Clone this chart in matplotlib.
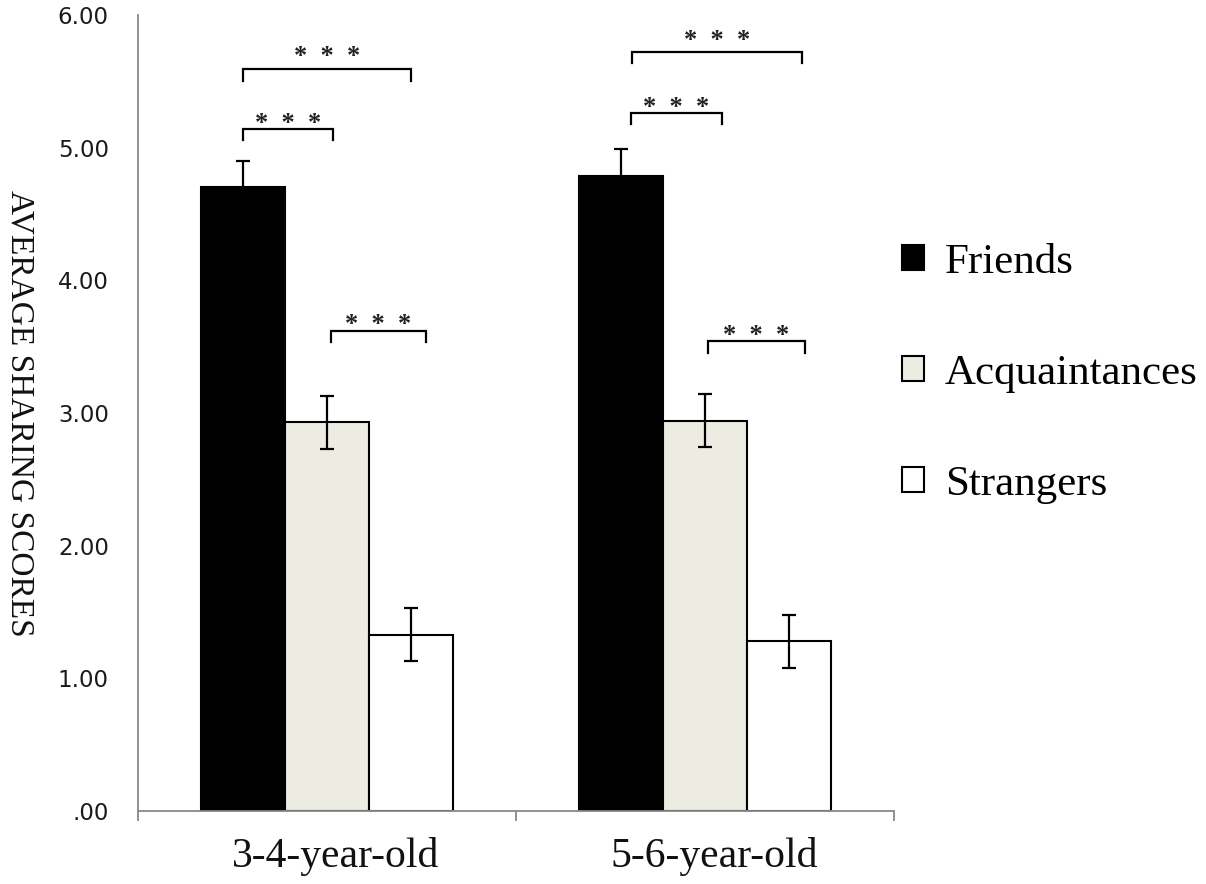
import numpy as np
import matplotlib
matplotlib.use("Agg")
import matplotlib.pyplot as plt
import matplotlib.transforms as mtransforms
from matplotlib.patches import Patch

groups = ["3-4-year-old", "5-6-year-old"]
series = ["Friends", "Acquaintances", "Strangers"]
means = {
    "Friends": [4.70, 4.79],
    "Acquaintances": [2.93, 2.94],
    "Strangers": [1.33, 1.28],
}
errors = {
    "Friends": [0.20, 0.20],
    "Acquaintances": [0.20, 0.20],
    "Strangers": [0.20, 0.20],
}
ytick_vals = [0, 1, 2, 3, 4, 5, 6]
ytick_labels = [".00", "1.00", "2.00", "3.00", "4.00", "5.00", "6.00"]

# significance brackets: (group, bar a, bar b, bracket height, star height)
sig_group = [0, 0, 0, 1, 1, 1]
sig_a = [0, 0, 1, 0, 0, 1]
sig_b = [2, 1, 2, 2, 1, 2]
sig_line = [5.59, 5.14, 3.62, 5.72, 5.26, 3.54]
sig_star = [5.74, 5.24, 3.72, 5.86, 5.36, 3.64]
sig_label = ["* * *"] * 6

colors = ["#000000", "#EDECE3", "#FFFFFF"]
serif = "Liberation Serif"

fig = plt.figure(figsize=(12.06, 8.84), dpi=100)
ax = fig.add_axes([138 / 1206, 1 - 811 / 884, (894 - 138) / 1206, (811 - 15) / 884])

w = 0.222
offs = [-w, 0, w]
x = np.arange(len(groups))
for i, s in enumerate(series):
    ax.bar(x + offs[i], means[s], w, color=colors[i], edgecolor="black", linewidth=1.5,
           yerr=errors[s], error_kw=dict(ecolor="black", elinewidth=1.6, capsize=5, capthick=1.6),
           zorder=2)

# bracket end shifts (hand drawn in original)
shift_l = [0.0, 0.0, 0.01, 0.03, 0.026, 0.008]
shift_r = [0.0, 0.016, 0.04, 0.035, 0.045, 0.042]
tip = 0.085
for k in range(len(sig_group)):
    xa = x[sig_group[k]] + offs[sig_a[k]] + shift_l[k]
    xb = x[sig_group[k]] + offs[sig_b[k]] + shift_r[k]
    yl = sig_line[k]
    ax.plot([xa, xa, xb, xb], [yl - tip, yl, yl, yl - tip], color="black", lw=1.6,
            solid_joinstyle="miter", clip_on=False, zorder=3)
    ax.annotate(sig_label[k].replace(" ", "  "), xy=((xa + xb) / 2, sig_star[k]), xytext=(0, -10),
                textcoords="offset points", ha="center", va="baseline",
                fontsize=19, fontweight="bold", family=serif, color="#222222")

ax.set_xlim(-0.5, 1.5)
ax.set_ylim(0, 6)
for sp in ["top", "right"]:
    ax.spines[sp].set_visible(False)
for sp in ["left", "bottom"]:
    ax.spines[sp].set_color("#888888")
    ax.spines[sp].set_linewidth(1.3)

ax.set_yticks(ytick_vals)
ax.set_yticklabels(ytick_labels, fontsize=16.5, family="DejaVu Sans", color="#1a1a1a")
ax.tick_params(axis="y", length=0, pad=21)

ax.set_xticks(x)
ax.set_xticklabels(groups, fontsize=30, family=serif, color="#111111")
ax.tick_params(axis="x", which="major", length=0, pad=19)
shift = mtransforms.ScaledTranslation(0.09, 0, fig.dpi_scale_trans)
for lab in ax.get_xticklabels():
    lab.set_transform(lab.get_transform() + shift)
ax.set_xticks([-0.5, 0.5, 1.5], minor=True)
ax.tick_params(axis="x", which="minor", length=7, width=1.3, color="#888888", direction="out")

fig.text(20 / 1206, 1 - 413.5 / 884, "AVERAGE SHARING SCORES", rotation=270,
         ha="center", va="center", fontsize=24, family=serif, color="#111111")

handles = [Patch(facecolor=colors[i], edgecolor="black", linewidth=1.5) for i in range(3)]
fig.legend(handles, series, loc="center left", bbox_to_anchor=(902 / 1206, 1 - 373.5 / 884),
           frameon=False, prop=dict(family=serif, size=31), handlelength=0.5,
           handleheight=0.5, handletextpad=0.5, labelspacing=1.68, borderpad=0,
           borderaxespad=0)

fig.savefig("out.png", dpi=100)
